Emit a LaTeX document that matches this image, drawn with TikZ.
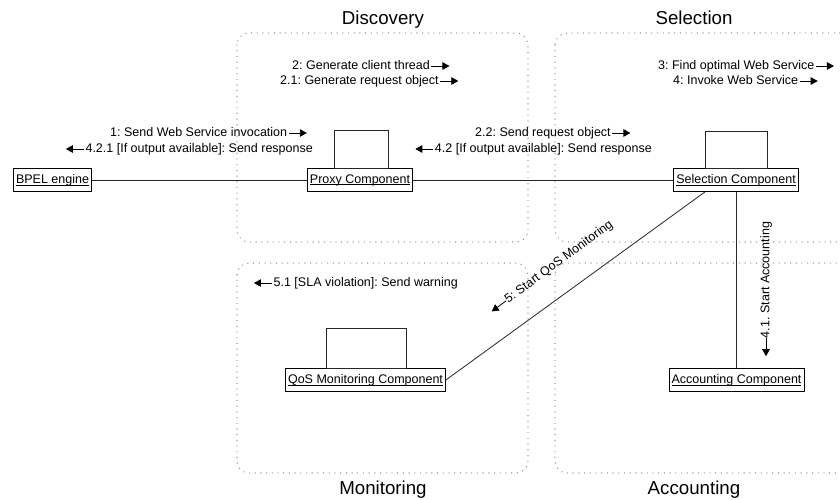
\documentclass[tikz,border=0pt]{standalone}
\usepackage{fontspec}
\setmainfont{Liberation Sans}
\usetikzlibrary{arrows.meta}
\frenchspacing
\newcommand\lblfont{\fontsize{12.5}{15}\selectfont}
\newcommand\ttlfont{\fontsize{18.7}{22}\selectfont}
\newcommand\myul[1]{\setbox0\hbox{#1}\rlap{\rule[-2pt]{\wd0}{0.7pt}}\box0}
\begin{document}
\begin{tikzpicture}[x=1pt,y=-1pt,
  region/.style={draw=black!45, line width=1.4pt, line cap=round, dash pattern=on 0pt off 5.7pt, rounded corners=12pt},
  title/.style={font=\ttlfont, inner sep=0pt, text height=13.4pt, text depth=4pt},
  comp/.style={draw, line width=0.8pt, inner xsep=2.5pt, inner ysep=0pt, minimum height=23pt, font=\lblfont, fill=white},
  lbl/.style={font=\lblfont, inner sep=0pt, text height=9pt, text depth=2.5pt},
  msg/.style={line width=0.8pt, -{Triangle[length=7pt,width=7.5pt]}},
  link/.style={line width=0.8pt, draw=black!85}]
\useasboundingbox (0,0) rectangle (840,499);
\fill[white] (0,0) rectangle (840,499);
\begin{scope}
  \clip (0,0) rectangle (840,499);
  \draw[region] (237,33) rectangle (528,242);
  \draw[region] (555,33) rectangle (870,242);
  \draw[region] (237,263) rectangle (528,473);
  \draw[region] (555,263) rectangle (870,473);
\end{scope}
% titles
\node[title] (tdisc) at (383,20) {Discovery};
\node[title] (tsel) at (694,20) {Selection};
\node[title] (tmon) at (383,490) {Monitoring};
\node[title] (tacc) at (694,490) {Accounting};
% components
\node[comp] (bpel) at (52.5,180) {\myul{BPEL engine}};
\node[comp] (proxy) at (360,180) {\myul{Proxy Component}};
\node[comp] (sel) at (736,180) {\myul{Selection Component}};
\node[comp] (qos) at (365.5,380) {\myul{QoS Monitoring Component}};
\node[comp] (acc) at (736.5,380) {\myul{Accounting Component}};
\draw[link] ([xshift=-26pt]proxy.north) rectangle ([xshift=28pt,yshift=38pt]proxy.north);
\draw[link] ([xshift=-31pt]sel.north) rectangle ([xshift=31pt,yshift=37pt]sel.north);
\draw[link] ([xshift=-39.5pt]qos.north) rectangle ([xshift=40.5pt,yshift=40pt]qos.north);
% connectors
\draw[link] (bpel) -- (proxy);
\draw[link] (proxy) -- (sel);
\draw[link] (qos.east) -- ([xshift=-31pt]sel.south);
\draw[link] (sel.south -| acc.north) -- (acc.north);
% messages
\node[lbl, anchor=west] (m2) at (292,66) {2: Generate client thread};
\draw[msg] ([xshift=1.5pt]m2.east) -- ++(18,0);
\node[lbl, anchor=west] (m21) at (280,81) {2.1: Generate request object};
\draw[msg] ([xshift=1.5pt]m21.east) -- ++(18,0);
\node[lbl, anchor=west] (m1) at (110,133) {1: Send Web Service invocation};
\draw[msg] ([xshift=1.5pt]m1.east) -- ++(18,0);
\node[lbl, anchor=east] (m421) at (313,149) {4.2.1 [If output available]: Send response};
\draw[msg] ([xshift=-1.5pt]m421.west) -- ++(-18,0);
\node[lbl, anchor=west] (m22) at (475,133) {2.2: Send request object};
\draw[msg] ([xshift=1.5pt]m22.east) -- ++(18,0);
\node[lbl, anchor=east] (m42) at (652,149) {4.2 [If output available]: Send response};
\draw[msg] ([xshift=-1.5pt]m42.west) -- ++(-18,0);
\node[lbl, anchor=west] (m3) at (658,66) {3: Find optimal Web Service};
\draw[msg] ([xshift=1.5pt]m3.east) -- ++(18,0);
\node[lbl, anchor=west] (m4) at (673,81) {4: Invoke Web Service};
\draw[msg] ([xshift=1.5pt]m4.east) -- ++(18,0);
\node[lbl, anchor=east] (m51) at (458,283) {5.1 [SLA violation]: Send warning};
\draw[msg] ([xshift=-1.5pt]m51.west) -- ++(-18,0);
\node[lbl, rotate=36.3] (m5) at (559,262) {5: Start QoS Monitoring};
\draw[msg] (m5.west) -- ++(216.3:18pt);
\node[lbl, rotate=90] (m41) at (766,280) {4.1. Start Accounting};
\draw[msg] (m41.west) -- ++(270:18pt);
\end{tikzpicture}
\end{document}
